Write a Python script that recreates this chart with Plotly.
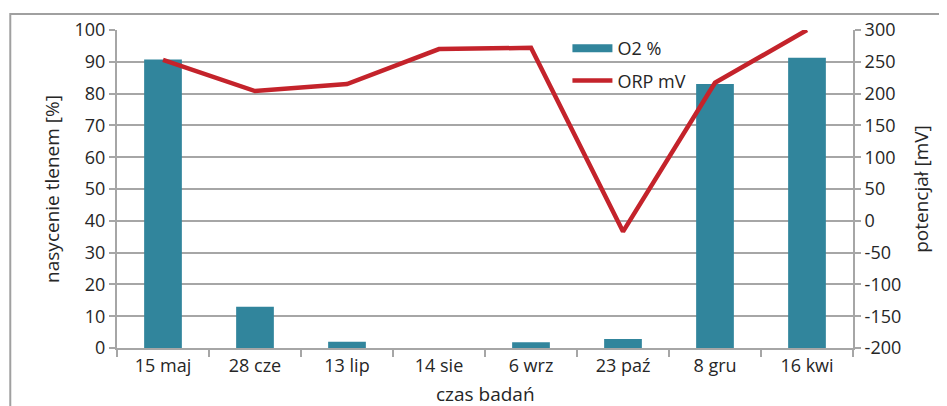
import plotly.graph_objects as go

categories = ["15 maj", "28 cze", "13 lip", "14 sie", "6 wrz", "23 paź", "8 gru", "16 kwi"]
o2_values = [90.7, 13.0, 2.0, 0.0, 1.8, 2.8, 83.0, 91.3]
orp_values = [253, 204, 215, 270, 272, -17, 217, 300]
orp_ticks = [-200, -150, -100, -50, 0, 50, 100, 150, 200, 250, 300]
orp_ticktext = ["-200", "-150", "-100", "-50", "0", "50", "100", "150", "200", "250", "300"]

grid = "#a6a6a6"
txt = "#262626"
teal = "#31859c"
font = "'Open Sans', sans-serif"

fig = go.Figure()
fig.add_trace(go.Bar(x=categories, y=o2_values, name="O2 %", marker_color=teal,
                     marker_line_width=0, width=0.41, yaxis="y", showlegend=False))
# legend entry for bars drawn as a wide flat swatch (as in the reference)
fig.add_trace(go.Scatter(x=[None], y=[None], name="O2 %", mode="lines",
                         line=dict(color=teal, width=8), yaxis="y", legendgroup="a"))
fig.add_trace(go.Scatter(x=categories, y=orp_values, name="ORP mV", mode="lines",
                         line=dict(color="#c4232b", width=4.5), yaxis="y2", legendgroup="b"))

fig.update_layout(
    width=931, height=398,
    margin=dict(l=109, r=86, t=22, b=58),
    paper_bgcolor="white", plot_bgcolor="white",
    font=dict(family=font, size=18, color=txt),
    showlegend=True,
    legend=dict(x=0.612, y=1.0, xanchor="left", yanchor="top", bgcolor="rgba(0,0,0,0)",
                font=dict(size=18, color=txt), tracegroupgap=6, itemwidth=40),
    xaxis=dict(type="category", range=[-0.5, 7.5], showgrid=False, showline=True,
               linecolor=grid, linewidth=2, ticks="outside", tickson="boundaries",
               ticklen=7, tickcolor=grid, tickwidth=2, automargin=False,
               tickfont=dict(size=18)),
    yaxis=dict(range=[0, 100], dtick=10, showgrid=True, gridcolor=grid, gridwidth=2,
               showline=True, linecolor=grid, linewidth=2, ticks="outside", ticklen=6,
               tickcolor=grid, tickwidth=2, zeroline=False, automargin=False,
               tickfont=dict(size=18),
               title=dict(text="nasycenie tlenem [%]", standoff=10, font=dict(size=19))),
    yaxis2=dict(range=[-200, 300], tickvals=orp_ticks, ticktext=orp_ticktext,
                overlaying="y", side="right", showgrid=False,
                showline=True, linecolor=grid, linewidth=2, ticks="outside", ticklen=6,
                tickcolor=grid, tickwidth=2, zeroline=False, automargin=False,
                tickfont=dict(size=18),
                title=dict(text="potencjał [mV]", standoff=14, font=dict(size=19))),
    annotations=[dict(text="czas badań", xref="paper", yref="paper", x=0.5, y=-0.145,
                      xanchor="center", yanchor="middle", showarrow=False,
                      font=dict(size=19, color=txt))],
    shapes=[dict(type="rect", xref="paper", yref="paper", x0=-0.145, x1=1.3, y0=-0.3, y1=1.05,
                 line=dict(color="#a0a0a0", width=2), layer="below")],
)

fig.write_html("out.html")
